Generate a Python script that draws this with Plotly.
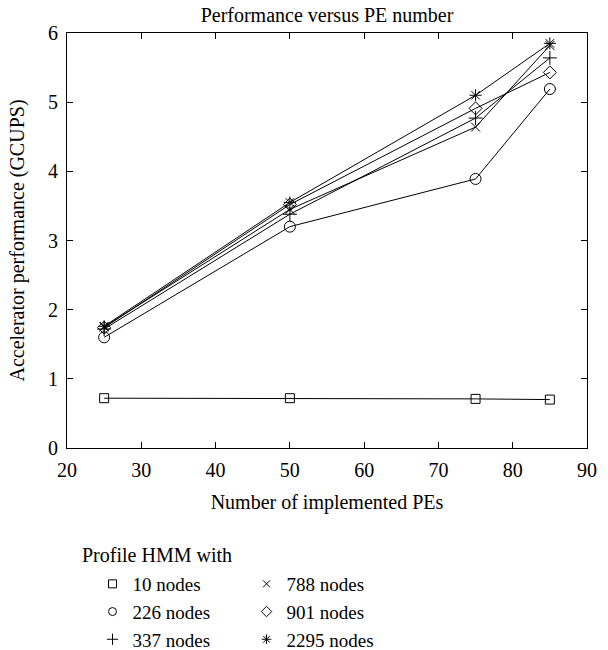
import plotly.graph_objects as go

pe_counts = [25, 50, 75, 85]
series_names = ["10 nodes", "226 nodes", "337 nodes", "788 nodes", "901 nodes", "2295 nodes"]
perf_10 = [0.72, 0.72, 0.71, 0.70]
perf_226 = [1.60, 3.20, 3.89, 5.19]
perf_337 = [1.72, 3.38, 4.77, 5.64]
perf_788 = [1.75, 3.45, 4.64, 5.82]
perf_901 = [1.74, 3.52, 4.91, 5.43]
perf_2295 = [1.76, 3.55, 5.10, 5.85]
x_ticks = [20, 30, 40, 50, 60, 70, 80, 90]
y_ticks = [0, 1, 2, 3, 4, 5, 6]

FONT = "Liberation Serif"
series = [
    (series_names[0], perf_10, "square-open", 9, 8, "legend"),
    (series_names[1], perf_226, "circle-open", 11, 8, "legend"),
    (series_names[2], perf_337, "cross-thin-open", 10, 8, "legend"),
    (series_names[3], perf_788, "x-thin-open", 9, 7, "legend2"),
    (series_names[4], perf_901, "diamond-open", 10, 8, "legend2"),
    (series_names[5], perf_2295, "asterisk-open", 10, 8, "legend2"),
]

fig = go.Figure()
for name, vals, sym, size, lsize, leg in series:
    fig.add_trace(go.Scatter(
        x=pe_counts, y=vals, name=name, mode="lines+markers",
        line=dict(color="black", width=1),
        marker=dict(symbol=sym, size=size, color="black", line=dict(color="black", width=1)),
        showlegend=False,
    ))
for name, vals, sym, size, lsize, leg in series:
    fig.add_trace(go.Scatter(
        x=[None], y=[None], name=name, mode="markers",
        marker=dict(symbol=sym, size=lsize, color="black", line=dict(color="black", width=1)),
        legend=leg, showlegend=True,
    ))

axis_common = dict(
    showline=True, linecolor="black", linewidth=1, mirror="ticks",
    ticks="inside", ticklen=6, tickcolor="black", showgrid=False, zeroline=False,
    ticklabelstandoff=4,
    tickfont=dict(family=FONT, size=20, color="black"),
)

leg_common = dict(orientation="v", xref="paper", yref="container", yanchor="top", xanchor="left",
                  font=dict(family=FONT, size=19, color="black"), bgcolor="rgba(0,0,0,0)",
                  itemwidth=30, tracegroupgap=0, borderwidth=0)

fig.update_layout(
    width=608, height=650,
    plot_bgcolor="white", paper_bgcolor="white",
    margin=dict(l=67, r=11, t=33, b=202),
    font=dict(family=FONT, size=20, color="black"),
    title=dict(text="Performance versus PE number", x=0.5, xref="paper", xanchor="center",
               y=1 - 15 / 650, yref="container", yanchor="middle",
               font=dict(family=FONT, size=20, color="black")),
    xaxis=dict(range=[20, 90], tickvals=x_ticks, **axis_common,
               title=dict(text="Number of implemented PEs", font=dict(family=FONT, size=20), standoff=14)),
    yaxis=dict(range=[0, 6], tickvals=y_ticks, **axis_common,
               title=dict(text="Accelerator performance (GCUPS)", font=dict(family=FONT, size=20), standoff=18)),
    legend=dict(x=(93 - 67) / 530, y=1 - 565 / 650, **leg_common),
    legend2=dict(x=(250 - 67) / 530, y=1 - 565 / 650, **leg_common),
    annotations=[dict(text="Profile HMM with", xref="paper", yref="paper", x=(80 - 67) / 530,
                      y=-(555 - 448) / 415,
                      xanchor="left", yanchor="middle", showarrow=False,
                      font=dict(family=FONT, size=20, color="black"))],
)

fig.write_html("out.html", config={"displayModeBar": False},
               post_script="document.body.style.margin='0';")
